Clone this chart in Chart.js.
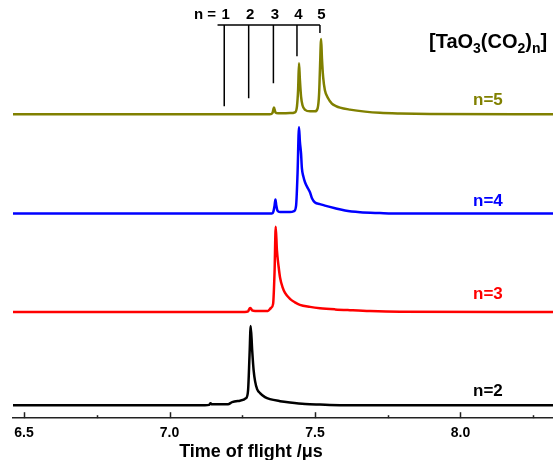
<!DOCTYPE html>
<html>
<head>
<meta charset="utf-8">
<script src="https://cdn.jsdelivr.net/npm/chart.js@4.4.1/dist/chart.umd.min.js"></script>
<style>
  body { margin: 0; background: #fff; }
  #wrap { width: 553px; height: 460px; position: relative; }
</style>
</head>
<body>
<div id="wrap"><canvas id="tof"></canvas></div>
<script>
// time of flight (µs) and signal (arb. units) for each cluster size
const n2Time = [6.462, 7.122, 7.136, 7.141, 7.146, 7.201, 7.215, 7.242, 7.263, 7.270, 7.275, 7.279, 7.284, 7.289, 7.294, 7.301, 7.311, 7.328, 7.345, 7.380, 7.414, 7.466, 7.517, 7.586, 8.318];
const n2Signal = [0, 0, 0.3, 1.8, 0.8, 1, 3, 4.5, 7, 15, 50, 79, 55, 35, 24, 16, 12, 8, 6, 4, 2.7, 1.2, 0.6, 0, 0];

const n3Time = [6.462, 7.259, 7.270, 7.275, 7.278, 7.284, 7.294, 7.338, 7.349, 7.356, 7.361, 7.365, 7.369, 7.375, 7.380, 7.388, 7.397, 7.414, 7.431, 7.448, 7.483, 7.517, 7.569, 7.620, 7.689, 7.792, 8.318];
const n3Signal = [0, 0, 0.5, 3.5, 4, 1.5, 1, 1, 4, 8, 40, 85, 62, 45, 34, 25, 19, 13, 9.5, 7, 5, 3.7, 2.5, 1.7, 0.8, 0.2, 0];

const n4Time = [6.462, 7.352, 7.357, 7.361, 7.364, 7.367, 7.371, 7.380, 7.414, 7.428, 7.435, 7.440, 7.445, 7.448, 7.452, 7.455, 7.460, 7.466, 7.476, 7.483, 7.490, 7.500, 7.517, 7.534, 7.569, 7.603, 7.655, 7.723, 7.792, 8.318];
const n4Signal = [0, 0, 2, 8, 14, 8, 3, 1.5, 1.5, 2.5, 8, 40, 86, 72, 60, 45, 37, 31, 25, 21, 15, 11, 9.5, 8, 5.3, 3, 1.3, 0.5, 0, 0];

const n5Time = [6.462, 7.345, 7.354, 7.359, 7.364, 7.373, 7.414, 7.431, 7.438, 7.442, 7.445, 7.448, 7.452, 7.457, 7.466, 7.483, 7.500, 7.509, 7.514, 7.517, 7.521, 7.524, 7.528, 7.534, 7.545, 7.558, 7.572, 7.586, 7.620, 7.672, 7.723, 7.792, 7.895, 8.318];
const n5Signal = [0, 0, 1.5, 6.7, 2, 1, 1.2, 2, 8, 25, 51, 35, 18, 9, 4.5, 3, 3, 6, 20, 45, 75, 55, 37, 24, 16, 10.7, 8.3, 6.7, 4.7, 2.7, 1.5, 0.8, 0.3, 0];

// vertical stacking offsets of the traces
const offsets = [13, 106, 204, 303];
const traceLabels = ['n=2', 'n=3', 'n=4', 'n=5'];
const traceColors = ['#000000', '#ff0000', '#0000ff', '#808000'];

// expected arrival times of [TaO3(CO2)n], n = 1..5
const stickN = ['1', '2', '3', '4', '5'];
const stickTime = [7.188, 7.272, 7.357, 7.438, 7.517];
const stickEnd = [311, 319, 334, 361, 384];
const stickTop = 392;

const xTicks = [6.5, 7.0, 7.5, 8.0];

const traces = [[n2Time, n2Signal], [n3Time, n3Signal], [n4Time, n4Signal], [n5Time, n5Signal]];

const datasets = traces.map(([t, s], i) => ({
    label: traceLabels[i],
    data: t.map((v, k) => ({ x: v, y: s[k] + offsets[i] })),
    borderColor: traceColors[i],
    borderWidth: 2.5,
    pointRadius: 0,
    cubicInterpolationMode: 'monotone',
    fill: false
}));

const stickData = [{ x: 7.165, y: stickTop }, { x: stickTime[4], y: stickTop }, { x: stickTime[4], y: null }];
stickTime.forEach((t, i) => {
    stickData.push({ x: t, y: stickTop }, { x: t, y: stickEnd[i] }, { x: t, y: null });
});
datasets.push({
    label: 'sticks',
    data: stickData,
    borderColor: '#000',
    borderWidth: 1.5,
    pointRadius: 0,
    spanGaps: false,
    tension: 0
});

const FONT = '"Liberation Sans", Arial, sans-serif';

const decor = {
    id: 'decor',
    afterDraw(chart) {
        const { ctx, scales: { x, y } } = chart;
        ctx.save();

        // inward tick marks on the time axis
        ctx.strokeStyle = '#222';
        ctx.lineWidth = 1.5;
        x.ticks.forEach(tk => {
            const px = Math.round(x.getPixelForValue(tk.value)) + 0.5;
            const major = xTicks.some(v => Math.abs(v - tk.value) < 1e-6);
            const len = major ? 6 : 3;
            ctx.beginPath();
            ctx.moveTo(px, y.bottom);
            ctx.lineTo(px, y.bottom - len);
            ctx.stroke();
        });

        // axis title
        ctx.fillStyle = '#000';
        ctx.font = 'bold 18px ' + FONT;
        ctx.textAlign = 'center';
        ctx.textBaseline = 'alphabetic';
        ctx.fillText('Time of flight /\u03bcs', 251, 457);

        // trace labels
        ctx.font = 'bold 17px ' + FONT;
        ctx.textAlign = 'left';
        ctx.textBaseline = 'middle';
        const lift = [14, 18, 12.5, 14];
        traceLabels.forEach((lab, i) => {
            ctx.fillStyle = traceColors[i];
            ctx.fillText(lab, 473, y.getPixelForValue(offsets[i] + lift[i]));
        });

        // stick labels
        ctx.fillStyle = '#000';
        ctx.font = 'bold 15px ' + FONT;
        ctx.textAlign = 'right';
        ctx.fillText('n =', 216, 15);
        ctx.textAlign = 'center';
        stickN.forEach((n, i) => {
            ctx.fillText(n, x.getPixelForValue(stickTime[i]) + 1.5, 15);
        });

        // species title with subscripts
        ctx.textAlign = 'left';
        ctx.textBaseline = 'alphabetic';
        const parts = [['[TaO', 0], ['3', 1], ['(CO', 0], ['2', 1], [')', 0], ['n', 1], [']', 0]];
        let cx = 429;
        parts.forEach(([txt, sub]) => {
            ctx.font = sub ? 'bold 14px ' + FONT : 'bold 20px ' + FONT;
            ctx.fillText(txt, cx, sub ? 53 : 48);
            cx += ctx.measureText(txt).width;
        });

        ctx.restore();
    }
};

new Chart(document.getElementById('tof'), {
    type: 'line',
    data: { datasets },
    options: {
        responsive: true,
        maintainAspectRatio: false,
        animation: false,
        layout: { padding: { left: 13, right: 0, top: 0, bottom: 11 } },
        plugins: {
            legend: { display: false },
            tooltip: { enabled: false }
        },
        scales: {
            x: {
                type: 'linear',
                min: 6.462,
                max: 8.318,
                grid: { display: false, drawTicks: false },
                border: { display: true, color: '#222', width: 1.5 },
                ticks: {
                    stepSize: 0.25,
                    includeBounds: false,
                    autoSkip: false,
                    maxRotation: 0,
                    padding: 7,
                    color: '#000',
                    font: { family: FONT, size: 14, weight: 'bold' },
                    callback: (v) => xTicks.some(t => Math.abs(t - v) < 1e-6) ? v.toFixed(1) : ''
                }
            },
            y: {
                display: false,
                min: 0,
                max: 417
            }
        }
    },
    plugins: [decor]
});
</script>
</body>
</html>
